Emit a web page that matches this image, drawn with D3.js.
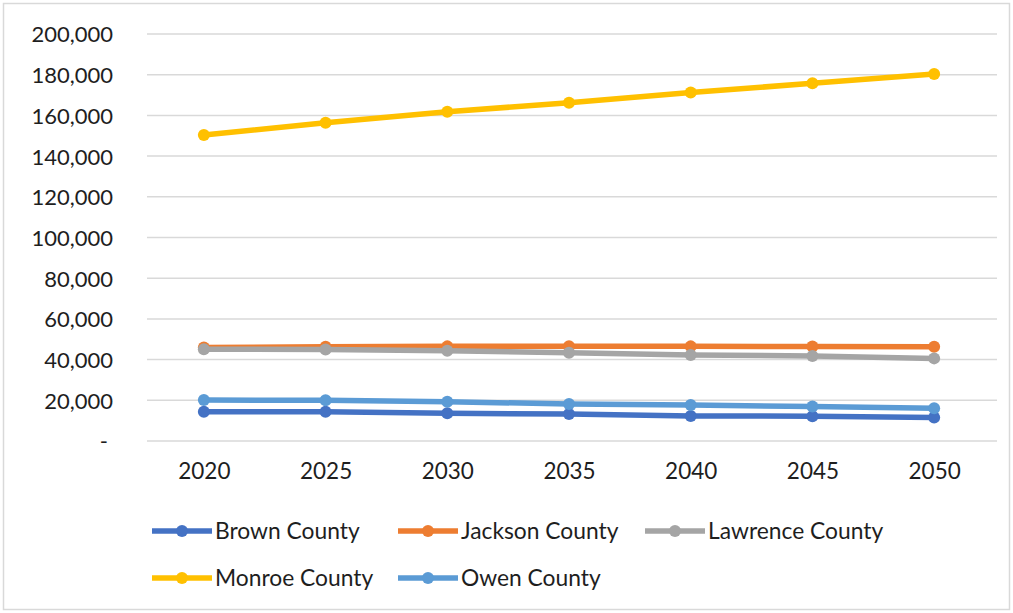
<!DOCTYPE html>
<html>
<head>
<meta charset="utf-8">
<script src="https://cdn.jsdelivr.net/npm/d3@7"></script>
<style>
  html, body { margin: 0; padding: 0; background: #fff; }
  svg { display: block; }
  text { font-family: Lato, "Liberation Sans", sans-serif; fill: #1e1e1e; }
</style>
</head>
<body>
<svg id="chart" width="1013" height="613"></svg>
<script>
// Population projections by county, 2020-2050
const years = ["2020", "2025", "2030", "2035", "2040", "2045", "2050"];
const yTicks = [0, 20000, 40000, 60000, 80000, 100000, 120000, 140000, 160000, 180000, 200000];

const seriesNames = ["Brown County", "Jackson County", "Lawrence County", "Monroe County", "Owen County"];
const seriesColors = ["#4472C4", "#ED7D31", "#A5A5A5", "#FFC000", "#5B9BD5"];

const brown    = [14400, 14400, 13600, 13300, 12300, 12200, 11600];
const jackson  = [46000, 46300, 46500, 46600, 46500, 46400, 46300];
const lawrence = [45100, 45000, 44400, 43400, 42300, 41800, 40600];
const monroe   = [150400, 156400, 161800, 166200, 171200, 175800, 180400];
const owen     = [20100, 20000, 19300, 18200, 17700, 16900, 16100];

const seriesValues = [brown, jackson, lawrence, monroe, owen];

const svg = d3.select("#chart");
const W = 1013, H = 613;

// outer chart-area frame
svg.append("rect")
  .attr("x", 3.5).attr("y", 3.5)
  .attr("width", W - 7).attr("height", H - 7)
  .attr("fill", "#fff")
  .attr("stroke", "#D9D9D9")
  .attr("stroke-width", 1.5);

const plot = { left: 143, right: 995, top: 34, bottom: 441 };

const x = d3.scalePoint()
  .domain(years)
  .range([plot.left, plot.right])
  .padding(0.5);

const y = d3.scaleLinear()
  .domain([0, 200000])
  .range([plot.bottom, plot.top]);

const fmt = d3.format(",");

// horizontal gridlines
svg.append("g")
  .selectAll("line")
  .data(yTicks)
  .join("line")
  .attr("x1", plot.left + 4)
  .attr("x2", plot.right + 2)
  .attr("y1", d => y(d))
  .attr("y2", d => y(d))
  .attr("stroke", "#D9D9D9")
  .attr("stroke-width", 1.5);

// value axis labels
const yAxis = d3.axisLeft(y)
  .tickValues(yTicks)
  .tickSize(0)
  .tickPadding(0)
  .tickFormat(d => d === 0 ? "-" : fmt(d));

const gy = svg.append("g")
  .attr("transform", "translate(113,0)")
  .call(yAxis);
gy.select(".domain").remove();
gy.selectAll("text")
  .attr("font-size", 22)
  .attr("dy", "0.36em")
  .attr("dx", d => d === 0 ? -5 : 0);

// category axis labels
const xAxis = d3.axisBottom(x).tickSize(0).tickPadding(0);
const gx = svg.append("g")
  .attr("transform", "translate(0,463)")
  .call(xAxis);
gx.select(".domain").remove();
gx.selectAll("text")
  .attr("font-size", 22.5)
  .attr("dy", "0.72em");

// series lines and markers
const line = d3.line()
  .x((d, i) => x(years[i]))
  .y(d => y(d));

seriesValues.forEach((vals, si) => {
  const g = svg.append("g");
  g.append("path")
    .datum(vals)
    .attr("d", line)
    .attr("fill", "none")
    .attr("stroke", seriesColors[si])
    .attr("stroke-width", 5.5)
    .attr("stroke-linejoin", "round");
  g.selectAll("circle")
    .data(vals)
    .join("circle")
    .attr("cx", (d, i) => x(years[i]))
    .attr("cy", d => y(d))
    .attr("r", 6)
    .attr("fill", seriesColors[si]);
});

// legend
const legendX = [152, 398, 645];
const legendY = [531, 578];
seriesNames.forEach((name, i) => {
  const lx = legendX[i % 3];
  const ly = legendY[Math.floor(i / 3)];
  const g = svg.append("g").attr("transform", `translate(${lx},${ly})`);
  g.append("line")
    .attr("x1", 0).attr("x2", 60)
    .attr("y1", 0).attr("y2", 0)
    .attr("stroke", seriesColors[i])
    .attr("stroke-width", 5.5);
  g.append("circle")
    .attr("cx", 30).attr("cy", 0).attr("r", 6)
    .attr("fill", seriesColors[i]);
  g.append("text")
    .attr("x", 63).attr("y", 0)
    .attr("dy", "0.36em")
    .attr("font-size", 22.8)
    .text(name);
});
</script>
</body>
</html>
